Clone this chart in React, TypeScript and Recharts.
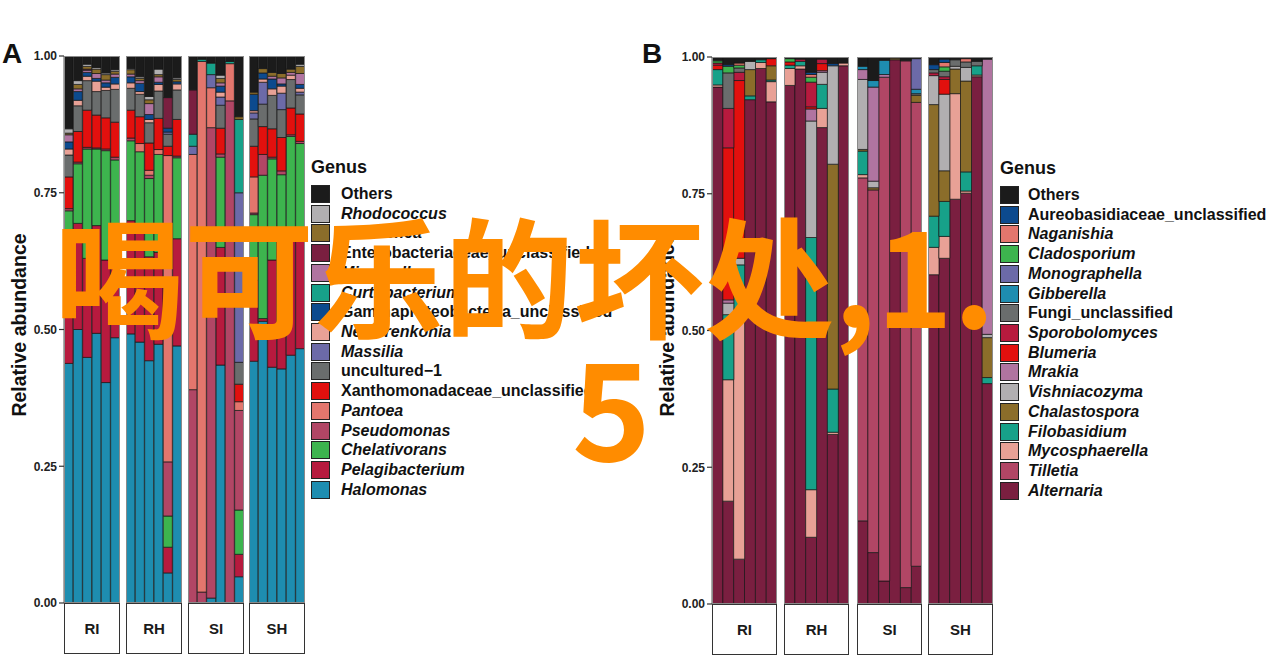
import React from 'react';
import { BarChart, Bar, XAxis, YAxis } from 'recharts';

// sample groups (facets), 6 samples each
const groups = ['RI', 'RH', 'SI', 'SH'];
const perGroup = 6;
const yTicks = [0, 0.25, 0.5, 0.75, 1];

// ---------- Panel A (bacteria) ----------
const generaA = [
  'Others', 'Rhodococcus', 'Aliihoeflea', 'Enterobacteriaceae_unclassified', 'Microcella',
  'Curtobacterium', 'Gammaproteobacteria_unclassified', 'Nesterenkonia', 'Massilia', 'uncultured\u22121',
  'Xanthomonadaceae_unclassified', 'Pantoea', 'Pseudomonas', 'Chelativorans', 'Pelagibacterium', 'Halomonas',
];
const italicA = [false, true, true, false, true, true, false, true, true, false, false, true, true, true, true, true];
const colorsA = [
  '#1b1b1b', '#b1afb1', '#8b6d2a', '#7a1f40', '#b074a0', '#17a189', '#0c4a8e', '#e8a196',
  '#6c6aa8', '#6a6d6d', '#e2100e', '#e3766d', '#b14665', '#3db44e', '#b71a3e', '#1e8db0',
];

// values per bar: RI1-6, RH1-6, SI1-6, SH1-6
const aOthers = [0.133, 0.045, 0.015, 0.021, 0.031, 0.025, 0.023, 0.038, 0.074, 0.024, 0.076, 0.04, 0.062, 0.006, 0.013, 0.035, 0.01, 0.111, 0.066, 0.023, 0.03, 0.032, 0.024, 0.015];
const aRhodococcus = [0.008, 0.007, 0.004, 0.003, 0.003, 0.003, 0.002, 0.003, 0.006, 0.01, 0, 0.003, 0, 0, 0, 0.006, 0, 0, 0, 0, 0, 0, 0, 0.004];
const aAliihoeflea = [0.003, 0.008, 0.005, 0.008, 0.01, 0.005, 0.008, 0.004, 0.007, 0.004, 0, 0.004, 0, 0, 0, 0.008, 0, 0.005, 0.004, 0.008, 0.007, 0.008, 0.006, 0.013];
const aEnterobacteriaceae = [0, 0, 0.002, 0, 0, 0, 0, 0, 0, 0, 0.056, 0, 0.081, 0, 0, 0, 0, 0, 0, 0, 0, 0, 0, 0];
const aMicrocella = [0.013, 0.005, 0.004, 0.009, 0.005, 0.006, 0.005, 0.005, 0.02, 0.01, 0, 0, 0, 0, 0, 0.006, 0, 0, 0, 0, 0.005, 0.011, 0.005, 0.02];
const aCurtobacterium = [0, 0, 0, 0, 0, 0, 0, 0, 0, 0, 0, 0, 0.022, 0.004, 0.021, 0, 0.004, 0.134, 0, 0, 0, 0, 0, 0];
const aGammaproteo = [0.013, 0.016, 0.007, 0.005, 0.008, 0.012, 0.011, 0.015, 0.009, 0.004, 0.007, 0.004, 0, 0, 0, 0.011, 0, 0, 0.03, 0.011, 0.018, 0.004, 0, 0.007];
const aNesterenkonia = [0.011, 0.01, 0.008, 0.019, 0.006, 0.01, 0.01, 0.005, 0.006, 0.012, 0, 0.011, 0, 0, 0, 0.009, 0, 0, 0.004, 0.006, 0.012, 0.013, 0.008, 0.007];
const aMassilia = [0, 0, 0, 0, 0, 0, 0, 0, 0, 0, 0.004, 0, 0.015, 0, 0.024, 0.015, 0, 0.31, 0.011, 0.04, 0, 0.03, 0, 0.005];
const aUncultured = [0.04, 0.047, 0.054, 0.043, 0.05, 0.06, 0.04, 0.041, 0.037, 0.05, 0.022, 0.054, 0, 0, 0, 0.042, 0, 0.04, 0.05, 0.041, 0.061, 0.051, 0.052, 0.035];
const aXanthomonadaceae = [0.058, 0.056, 0.068, 0.06, 0.057, 0.064, 0.051, 0.049, 0.05, 0.057, 0.017, 0.067, 0, 0, 0, 0.047, 0, 0.032, 0.056, 0.051, 0.052, 0.061, 0.049, 0.05];
const aPantoea = [0, 0, 0, 0, 0, 0, 0, 0.015, 0.009, 0.009, 0.56, 0, 0.43, 0.97, 0.073, 0, 0.068, 0.016, 0.066, 0, 0, 0, 0, 0];
const aPseudomonas = [0.004, 0.003, 0.003, 0.002, 0.003, 0.005, 0.005, 0, 0.006, 0, 0.099, 0.003, 0.39, 0.02, 0.86, 0.006, 0.918, 0.182, 0.003, 0.038, 0.003, 0.007, 0.003, 0.004];
const aChelativorans = [0.1, 0.109, 0.2, 0.14, 0.2, 0.137, 0.146, 0.143, 0.143, 0.179, 0.057, 0.148, 0, 0, 0, 0.165, 0, 0.081, 0.12, 0.262, 0.185, 0.153, 0.19, 0.16];
const aPelagibacterium = [0.179, 0.194, 0.181, 0.197, 0.224, 0.188, 0.207, 0.205, 0.19, 0.168, 0.047, 0.196, 0, 0, 0, 0.215, 0, 0.041, 0.148, 0.005, 0.196, 0.202, 0.21, 0.215];
const aHalomonas = [0.438, 0.5, 0.449, 0.493, 0.403, 0.485, 0.492, 0.477, 0.443, 0.473, 0.055, 0.47, 0, 0, 0.009, 0.435, 0, 0.048, 0.442, 0.515, 0.431, 0.428, 0.453, 0.465];
const valuesA = [
  aOthers, aRhodococcus, aAliihoeflea, aEnterobacteriaceae, aMicrocella, aCurtobacterium, aGammaproteo, aNesterenkonia,
  aMassilia, aUncultured, aXanthomonadaceae, aPantoea, aPseudomonas, aChelativorans, aPelagibacterium, aHalomonas,
];

// ---------- Panel B (fungi) ----------
const generaB = [
  'Others', 'Aureobasidiaceae_unclassified', 'Naganishia', 'Cladosporium', 'Monographella', 'Gibberella',
  'Fungi_unclassified', 'Sporobolomyces', 'Blumeria', 'Mrakia', 'Vishniacozyma', 'Chalastospora',
  'Filobasidium', 'Mycosphaerella', 'Tilletia', 'Alternaria',
];
const italicB = [false, false, true, true, true, true, false, true, true, true, true, true, true, true, true, true];
const colorsB = [
  '#1b1b1b', '#0c4a8e', '#e3766d', '#3db44e', '#6c6aa8', '#1e8db0', '#6a6d6d', '#b71a3e',
  '#e2100e', '#b074a0', '#b1afb1', '#8b6d2a', '#17a189', '#e8a196', '#b14665', '#7a1f40',
];
const bOthers = [0.007, 0.014, 0.011, 0.008, 0.005, 0.003, 0.003, 0.004, 0.028, 0.004, 0.012, 0.011, 0.017, 0.043, 0.006, 0.002, 0.007, 0.003, 0.014, 0.004, 0.005, 0.003, 0.008, 0.004];
const bAureobasidiaceae = [0, 0.003, 0, 0, 0, 0, 0, 0, 0.004, 0, 0.004, 0, 0, 0, 0, 0, 0, 0, 0.009, 0.006, 0, 0, 0, 0];
const bNaganishia = [0, 0, 0.004, 0, 0, 0, 0, 0, 0.005, 0, 0, 0, 0, 0, 0, 0, 0, 0, 0, 0.008, 0, 0.006, 0, 0];
const bCladosporium = [0.004, 0.012, 0.005, 0, 0, 0, 0.006, 0, 0.009, 0, 0, 0, 0, 0, 0, 0, 0, 0, 0, 0.008, 0, 0, 0, 0];
const bMonographella = [0, 0, 0, 0, 0, 0, 0, 0, 0, 0, 0, 0, 0, 0, 0, 0, 0, 0.056, 0, 0, 0, 0, 0, 0];
const bGibberella = [0, 0, 0, 0, 0, 0, 0, 0, 0, 0, 0, 0, 0.006, 0.012, 0.026, 0, 0, 0.008, 0, 0, 0, 0, 0, 0];
const bFungi = [0, 0.065, 0.008, 0, 0, 0, 0, 0, 0, 0, 0, 0, 0, 0, 0, 0, 0, 0.003, 0.006, 0.01, 0.012, 0.01, 0.008, 0];
const bSporobolomyces = [0.004, 0.072, 0.015, 0, 0, 0, 0, 0.004, 0.045, 0.008, 0, 0, 0, 0, 0, 0, 0, 0, 0.005, 0.005, 0, 0, 0, 0];
const bBlumeria = [0.008, 0.278, 0.325, 0, 0, 0.013, 0.006, 0, 0.004, 0.013, 0, 0, 0, 0, 0, 0, 0, 0, 0, 0.027, 0, 0, 0, 0];
const bMrakia = [0, 0.006, 0, 0, 0, 0, 0, 0, 0.022, 0.003, 0, 0, 0.018, 0.172, 0.005, 0, 0, 0, 0, 0, 0, 0, 0, 0.503];
const bVishniacozyma = [0, 0.021, 0.012, 0.015, 0, 0, 0, 0, 0.213, 0.022, 0.18, 0, 0.128, 0.012, 0, 0, 0, 0, 0.053, 0.14, 0.005, 0.025, 0, 0.006];
const bChalastospora = [0, 0, 0, 0.048, 0, 0.026, 0, 0, 0, 0, 0.411, 0, 0.003, 0.004, 0, 0.003, 0, 0.013, 0.204, 0.056, 0.045, 0.166, 0, 0.073];
const bFilobasidium = [0.028, 0.119, 0.093, 0.007, 0.005, 0.003, 0.006, 0.008, 0.461, 0.044, 0.079, 0, 0.043, 0, 0, 0, 0, 0, 0.057, 0.064, 0, 0.035, 0.017, 0.011];
const bMycosphaerella = [0.004, 0.222, 0.445, 0, 0.011, 0.037, 0.031, 0.006, 0.087, 0.035, 0.004, 0.005, 0.006, 0, 0, 0, 0, 0, 0.05, 0.04, 0.193, 0.004, 0.003, 0];
const bTilletia = [0, 0, 0, 0, 0, 0, 0, 0, 0, 0, 0, 0, 0.627, 0.663, 0.921, 0, 0.963, 0.848, 0, 0, 0, 0, 0, 0];
const bAlternaria = [0.945, 0.188, 0.082, 0.922, 0.979, 0.918, 0.948, 0.978, 0.122, 0.871, 0.31, 0.984, 0.152, 0.094, 0.042, 0.995, 0.03, 0.069, 0.602, 0.632, 0.74, 0.751, 0.964, 0.403];
const valuesB = [
  bOthers, bAureobasidiaceae, bNaganishia, bCladosporium, bMonographella, bGibberella, bFungi, bSporobolomyces,
  bBlumeria, bMrakia, bVishniacozyma, bChalastospora, bFilobasidium, bMycosphaerella, bTilletia, bAlternaria,
];

const FONT = '"Liberation Sans", Arial, sans-serif';
const AXW = 40;
const PAD = 10; // vertical room so the end tick labels are not clipped

function buildRows(genera: string[], values: number[][], gi: number) {
  const rows: any[] = [];
  for (let s = 0; s < perGroup; s++) {
    const idx = gi * perGroup + s;
    const row: any = { sample: groups[gi] + (s + 1) };
    genera.forEach((g, k) => { row[g] = values[k][idx]; });
    rows.push(row);
  }
  return rows;
}

function Facet({ rows, genera, colors, width, height, showAxis }: any) {
  const stackOrder = genera.map((g: string, i: number) => i).reverse();
  return (
    <BarChart width={width + (showAxis ? AXW : 0)} height={height + PAD * 2} data={rows}
      margin={{ top: PAD, right: 0, bottom: PAD, left: 0 }} barCategoryGap={0}>
      <XAxis dataKey="sample" hide />
      <YAxis hide={!showAxis} width={AXW} type="number" domain={[0, 1]} allowDataOverflow ticks={yTicks}
        interval={0} tickFormatter={(v: number) => v.toFixed(2)} axisLine={false} tickSize={5}
        tickLine={{ stroke: '#333', strokeWidth: 1.2 }}
        tick={{ fill: '#222', fontSize: 12, fontWeight: 700, fontFamily: FONT }} />
      {stackOrder.map((i: number) => (
        <Bar key={genera[i]} dataKey={genera[i]} stackId="s" fill={colors[i]}
          stroke="#151515" strokeWidth={0.7} isAnimationActive={false} />
      ))}
    </BarChart>
  );
}

function Panel({ letter, letterX, genera, colors, italic, values, lefts, fw, top, ph, ylabelX, legX, legTextX, legTop }: any) {
  return (
    <>
      <div style={{ position: 'absolute', left: letterX, top: 38, fontSize: 28, fontWeight: 700, fontFamily: FONT, color: '#111' }}>{letter}</div>
      <div style={{ position: 'absolute', left: ylabelX, top: 325, transform: 'translate(-50%, -50%) rotate(-90deg)',
        whiteSpace: 'nowrap', fontSize: 19.5, fontWeight: 700, fontFamily: FONT, color: '#111' }}>Relative abundance</div>
      {groups.map((g, gi) => (
        <React.Fragment key={g}>
          <div style={{ position: 'absolute', left: lefts[gi] - (gi === 0 ? AXW : 0), top: top - PAD }}>
            <Facet rows={buildRows(genera, values, gi)} genera={genera} colors={colors}
              width={fw} height={ph} showAxis={gi === 0} />
          </div>
          <div style={{ position: 'absolute', left: lefts[gi], top, width: fw, height: ph,
            border: '1px solid #8a8a8a', boxSizing: 'border-box', pointerEvents: 'none' }} />
          <div style={{ position: 'absolute', left: lefts[gi], top: top + ph, width: fw, height: 51,
            border: '1.4px solid #333', boxSizing: 'border-box', background: '#fff', display: 'flex',
            alignItems: 'center', justifyContent: 'center', fontSize: 15, fontWeight: 700, fontFamily: FONT, color: '#1a1a1a' }}>{g}</div>
        </React.Fragment>
      ))}
      <div style={{ position: 'absolute', left: legX, top: legTop - 37, fontSize: 18, fontWeight: 700, fontFamily: FONT,
        color: '#111', lineHeight: '20px' }}>Genus</div>
      {genera.map((g: string, i: number) => {
        const cy = legTop + i * 19.72;
        return (
          <React.Fragment key={g}>
            <div style={{ position: 'absolute', left: legX, top: cy - 9, width: 19, height: 18, background: colors[i],
              border: '1px solid #222', boxSizing: 'border-box' }} />
            <div style={{ position: 'absolute', left: legTextX, top: cy - 10, height: 20, lineHeight: '20px',
              fontSize: 16, fontWeight: 700, fontStyle: italic[i] ? 'italic' : 'normal', fontFamily: FONT,
              color: '#111', whiteSpace: 'nowrap' }}>{g}</div>
          </React.Fragment>
        );
      })}
    </>
  );
}

const markStyle: React.CSSProperties = {
  position: 'absolute', fontSize: 130, lineHeight: '130px', color: '#ff8c00', fontWeight: 700,
  fontFamily: '"Noto Sans CJK SC", sans-serif', whiteSpace: 'nowrap',
};

export default function App() {
  return (
    <div style={{ position: 'absolute', left: 0, top: 0, width: 1270, height: 663, background: '#fff', overflow: 'hidden' }}>
      <Panel letter="A" letterX={2} genera={generaA} colors={colorsA} italic={italicA} values={valuesA}
        lefts={[64, 126, 188, 249]} fw={56} top={56} ph={547} ylabelX={19}
        legX={311} legTextX={341} legTop={194} />
      <Panel letter="B" letterX={642} genera={generaB} colors={colorsB} italic={italicB} values={valuesB}
        lefts={[712, 784, 857, 928]} fw={65} top={57} ph={547} ylabelX={667}
        legX={1000} legTextX={1028} legTop={195} />
      <div style={{ ...markStyle, left: 54, top: 206 }}>喝可乐的坏处,1.</div>
      <div style={{ ...markStyle, left: 572, top: 338, fontSize: 134 }}>5</div>
    </div>
  );
}
